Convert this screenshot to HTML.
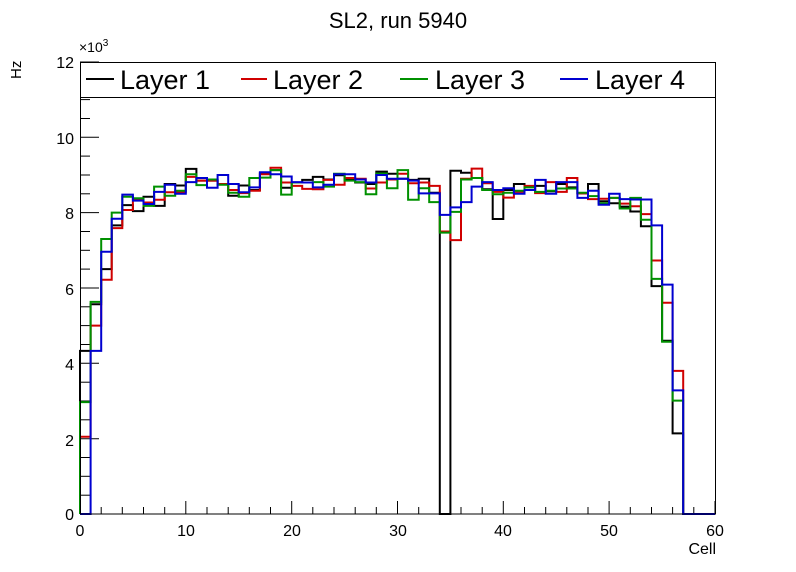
<!DOCTYPE html>
<html><head><meta charset="utf-8"><style>
body{margin:0;background:#fff}
svg{display:block;font-family:"Liberation Sans",sans-serif}
</style></head><body>
<svg id="s" width="796" height="572" xmlns="http://www.w3.org/2000/svg">
<rect width="796" height="572" fill="#fff"/>
<text x="398" y="28" font-size="22" text-anchor="middle">SL2, run 5940</text>
<text transform="translate(21,79) rotate(-90)" font-size="15">Hz</text>
<text x="79" y="52" font-size="14">×10<tspan dy="-6" font-size="10">3</tspan></text>
<g font-size="16" text-anchor="end">
<text x="74" y="520">0</text><text x="74" y="446">2</text><text x="74" y="370">4</text>
<text x="74" y="295">6</text><text x="74" y="219">8</text><text x="74" y="144">10</text><text x="74" y="68">12</text>
</g>
<g font-size="16" text-anchor="middle">
<text x="80" y="536">0</text><text x="186" y="536">10</text><text x="292" y="536">20</text>
<text x="398" y="536">30</text><text x="503" y="536">40</text><text x="609" y="536">50</text><text x="715" y="536">60</text>
</g>
<text x="716" y="554" font-size="16" text-anchor="end">Cell</text>
<g id="ticks" stroke="#000" stroke-width="1"></g>
<g id="hist" fill="none" stroke-width="2"></g>
<rect x="80.5" y="62.5" width="635" height="451.5" fill="none" stroke="#000"/>
<rect x="80.5" y="62.5" width="635" height="35" fill="#fff" stroke="#000"/>
<g font-size="27">
<line x1="86" y1="79" x2="114" y2="79" stroke="#000" stroke-width="2"/><text x="120" y="89">Layer 1</text>
<line x1="241" y1="79" x2="267" y2="79" stroke="#d00000" stroke-width="2"/><text x="273" y="89">Layer 2</text>
<line x1="400" y1="79" x2="428" y2="79" stroke="#009000" stroke-width="2"/><text x="435" y="89">Layer 3</text>
<line x1="560" y1="79" x2="588" y2="79" stroke="#0000d0" stroke-width="2"/><text x="595" y="89">Layer 4</text>
</g>
</svg>
<script>
var D=[
[4.33,5.57,6.50,7.66,8.20,8.04,8.42,8.18,8.76,8.72,9.16,8.85,8.85,8.76,8.45,8.72,8.60,9.05,9.13,8.66,8.8,8.87,8.95,8.88,8.99,8.87,8.80,8.76,9.09,9.03,8.90,8.87,8.90,8.53,0,9.11,9.06,8.92,8.62,7.83,8.6,8.76,8.6,8.71,8.57,8.76,8.67,8.51,8.76,8.30,8.25,8.16,8.03,7.64,6.05,4.60,2.14,0,0,0],
[2.05,5.0,6.22,7.59,8.07,8.35,8.27,8.34,8.54,8.54,8.95,8.85,8.85,8.76,8.60,8.52,8.58,9.02,9.19,8.80,8.71,8.63,8.62,8.87,8.74,8.92,8.90,8.64,8.80,8.88,9.03,8.78,8.80,8.71,7.50,7.27,8.9,9.17,8.78,8.55,8.4,8.55,8.71,8.52,8.81,8.55,8.92,8.51,8.36,8.37,8.39,8.24,8.17,7.96,6.73,5.61,3.80,0,0,0],
[2.97,5.63,7.30,8.0,8.42,8.38,8.18,8.69,8.45,8.58,9.02,8.73,8.88,8.74,8.53,8.42,8.92,8.93,9.13,8.48,8.80,8.80,8.81,8.69,9.03,8.85,8.81,8.49,9.04,8.65,9.13,8.34,8.65,8.28,7.47,8.02,8.88,8.92,8.6,8.49,8.53,8.58,8.67,8.55,8.58,8.64,8.64,8.53,8.44,8.25,8.39,8.11,8.39,7.81,6.24,4.57,3.01,0,0,0],
[0,4.33,6.96,7.84,8.48,8.32,8.23,8.55,8.74,8.50,8.81,8.92,8.66,9.0,8.76,8.54,8.67,9.07,9.02,8.96,8.81,8.80,8.67,8.74,9.02,9.02,8.88,8.80,9.0,8.90,8.90,8.85,8.51,8.51,7.94,8.14,8.28,8.69,8.81,8.60,8.65,8.50,8.6,8.87,8.50,8.81,8.81,8.39,8.58,8.21,8.50,8.36,8.35,8.35,7.66,6.09,3.28,0,0,0]];
var C=["#000","#d00000","#009000","#0000d0"];
function X(k){return 80+10.583*k} function Y(v){return 514-37.67*v}
var h="";
D.forEach(function(a,i){var p="M"+X(0)+" "+Y(0);
a.forEach(function(v,k){p+=" L"+X(k).toFixed(1)+" "+Y(v).toFixed(1)+" L"+X(k+1).toFixed(1)+" "+Y(v).toFixed(1);});
p+=" L"+X(60)+" "+Y(0);
h+='<path d="'+p+'" stroke="'+C[i]+'"/>';});
document.getElementById("hist").innerHTML=h;
var t="";
for(var v=0;v<=12.01;v+=0.5){var y=Y(v).toFixed(1);var L=(Math.abs(v/2-Math.round(v/2))<0.01)?19:10;t+='<line x1="80" y1="'+y+'" x2="'+(80+L)+'" y2="'+y+'"/>';}
for(var k=0;k<=60;k+=2){var x=X(k).toFixed(1);var L=(k%10==0)?13:7;t+='<line x1="'+x+'" y1="514" x2="'+x+'" y2="'+(514-L)+'"/>';}
document.getElementById("ticks").innerHTML=t;
</script>
</body></html>
